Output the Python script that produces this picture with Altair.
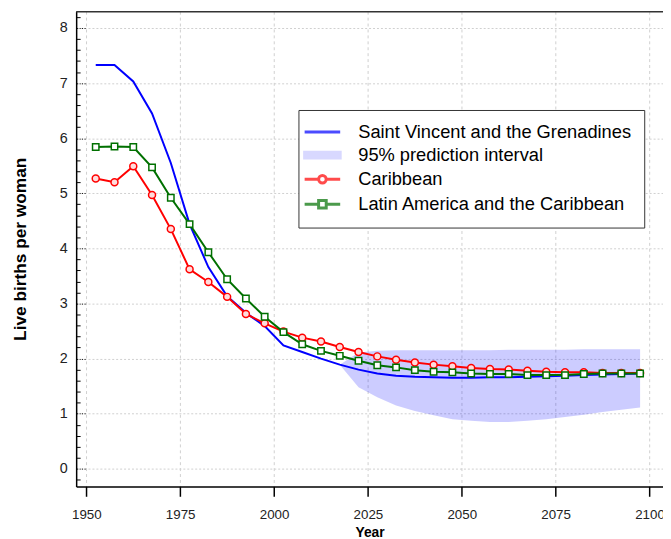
import altair as alt
import pandas as pd

# ---------------- data ----------------
years = [1952.5, 1957.5, 1962.5, 1967.5, 1972.5, 1977.5, 1982.5, 1987.5, 1992.5, 1997.5,
         2002.5, 2007.5, 2012.5, 2017.5, 2022.5, 2027.5, 2032.5, 2037.5, 2042.5, 2047.5,
         2052.5, 2057.5, 2062.5, 2067.5, 2072.5, 2077.5, 2082.5, 2087.5, 2092.5, 2097.5]

svg_tfr = [7.33, 7.33, 7.03, 6.45, 5.55, 4.44, 3.66, 3.13, 2.83, 2.59,
           2.24, 2.12, 2.00, 1.89, 1.80, 1.73, 1.69, 1.67, 1.66, 1.65,
           1.65, 1.66, 1.66, 1.67, 1.68, 1.69, 1.70, 1.71, 1.72, 1.73]

carib_tfr = [5.27, 5.20, 5.49, 4.97, 4.35, 3.62, 3.39, 3.12, 2.81, 2.64,
             2.49, 2.38, 2.31, 2.21, 2.12, 2.04, 1.98, 1.93, 1.89, 1.86,
             1.83, 1.81, 1.80, 1.78, 1.76, 1.75, 1.75, 1.74, 1.74, 1.74]

lac_tfr = [5.84, 5.85, 5.84, 5.47, 4.92, 4.44, 3.93, 3.44, 3.09, 2.76,
           2.48, 2.26, 2.14, 2.05, 1.96, 1.88, 1.84, 1.79, 1.76, 1.75,
           1.73, 1.72, 1.72, 1.70, 1.70, 1.70, 1.72, 1.73, 1.73, 1.73]

pi_years = [2017.5, 2022.5, 2027.5, 2032.5, 2037.5, 2042.5, 2047.5, 2052.5, 2057.5,
            2062.5, 2067.5, 2072.5, 2077.5, 2082.5, 2087.5, 2092.5, 2097.5]
pi_lower = [1.89, 1.48, 1.30, 1.15, 1.05, 0.97, 0.90, 0.87, 0.85,
            0.85, 0.87, 0.90, 0.94, 0.98, 1.03, 1.07, 1.11]
pi_upper = [1.89, 2.11, 2.14, 2.15, 2.15, 2.15, 2.15, 2.15, 2.15,
            2.16, 2.16, 2.16, 2.16, 2.17, 2.17, 2.17, 2.17]

x_ticks = [1950, 1975, 2000, 2025, 2050, 2075, 2100]
y_ticks = [0, 1, 2, 3, 4, 5, 6, 7, 8]
y_minor = [round(v / 10, 1) for v in range(-2, 83, 2) if v % 10 != 0]

legend_labels = ["Saint Vincent and the Grenadines", "95% prediction interval",
                 "Caribbean", "Latin America and the Caribbean"]

# ---------------- styling ----------------
FONT = "Liberation Sans"
BLUE = "#0000ff"
RED = "#ff0000"
GREEN = "#007000"
BAND = "#c8c8ff"

legend_colors = [BLUE, BAND, RED, GREEN]
legend_shapes = [
    "M-2.571,0H2.571",
    "M-2.786,-0.43H2.786M-2.786,-0.14H2.786M-2.786,0.14H2.786M-2.786,0.43H2.786",
    "M-2.571,0H-0.55M0.55,0H2.571M0.55,0A0.55,0.55 0 1 1 -0.55,0A0.55,0.55 0 1 1 0.55,0",
    "M-2.571,0H-0.55M0.55,0H2.571M-0.55,-0.55H0.55V0.55H-0.55Z",
]

df = pd.DataFrame({"year": years, "svg": svg_tfr, "carib": carib_tfr, "lac": lac_tfr})
band_df = pd.DataFrame({"year": pi_years, "lo": pi_lower, "hi": pi_upper})
leg_df = pd.DataFrame({"series": legend_labels})

PLOT_W = 594
PLOT_H = 481

x_scale = alt.Scale(domain=[1947.29, 2103.6], nice=False, zero=False)
y_scale = alt.Scale(domain=[-0.32, 8.305], nice=False, zero=False)

x_axis = alt.Axis(values=x_ticks, format="d", title="Year", grid=True,
                  gridColor="#cfcfcf", gridDash=[3, 3], gridWidth=1,
                  domainColor="black", domainWidth=1.5,
                  tickColor="black", tickWidth=1.5, tickSize=10,
                  labelFont=FONT, labelFontSize=13.5, labelColor="#222222",
                  labelPadding=12, labelFlush=False,
                  titleFont=FONT, titleFontSize=14, titleFontWeight="bold",
                  titleColor="black", titlePadding=4.5)

y_axis_main = alt.Axis(orient="left", values=y_ticks, format="d",
                       title="Live births per woman", grid=True,
                       gridColor="#cfcfcf", gridDash=[2, 2], gridWidth=1,
                       domainColor="black", domainWidth=1.5,
                       ticks=False, tickSize=0,
                       labelFont=FONT, labelFontSize=14.5, labelColor="#222222",
                       labelPadding=9,
                       titleFont=FONT, titleFontSize=17.5, titleFontWeight="bold",
                       titleColor="black", titlePadding=30)

y_axis_minor = alt.Axis(orient="left", values=y_minor, offset=-4, tickSize=4,
                        tickColor="black", tickWidth=1, domain=False,
                        labels=False, grid=False, title=None)

y_axis_major = alt.Axis(orient="left", values=y_ticks, offset=-9, tickSize=9,
                        tickColor="black", tickWidth=1, tickDash=[1, 1.5],
                        domain=False, labels=False, grid=False, title=None)

X = alt.X("year:Q", scale=x_scale, axis=x_axis)

band = alt.Chart(band_df).mark_area(color=BLUE, opacity=0.2).encode(
    x=X,
    y=alt.Y("lo:Q", scale=y_scale, axis=y_axis_main),
    y2="hi:Q",
)

blue = alt.Chart(df).mark_line(color=BLUE, strokeWidth=2).encode(
    x=X, y=alt.Y("svg:Q", scale=y_scale, axis=y_axis_minor))

red_line = alt.Chart(df).mark_line(color=RED, strokeWidth=2).encode(
    x=X, y=alt.Y("carib:Q", scale=y_scale, axis=y_axis_major))

red_pts = alt.Chart(df).mark_point(shape="circle", size=50, filled=True,
                                    fill="#ffdcdc", stroke=RED, strokeWidth=1.5,
                                    opacity=1).encode(
    x=X, y=alt.Y("carib:Q", scale=y_scale, axis=None))

green_line = alt.Chart(df).mark_line(color=GREEN, strokeWidth=2).encode(
    x=X, y=alt.Y("lac:Q", scale=y_scale, axis=None))

green_pts = alt.Chart(df).mark_point(shape="square", size=42, filled=True,
                                      fill="white", stroke=GREEN, strokeWidth=1.5,
                                      opacity=1).encode(
    x=X, y=alt.Y("lac:Q", scale=y_scale, axis=None))

leg = alt.Legend(title=None, orient="none", legendX=225, legendY=100,
                 padding=13, rowPadding=4.4, symbolSize=196,
                 symbolStrokeWidth=3, symbolOffset=2, labelOffset=27,
                 labelFont=FONT, labelFontSize=18.5, labelColor="black",
                 labelLimit=500, strokeColor="#333333", fillColor="white")

legend_layer = alt.Chart(leg_df).mark_point(filled=False, strokeWidth=3).encode(
    x=alt.value(-3000), y=alt.value(-3000),
    color=alt.Color("series:N", scale=alt.Scale(domain=legend_labels, range=legend_colors), legend=leg),
    shape=alt.Shape("series:N", scale=alt.Scale(domain=legend_labels, range=legend_shapes), legend=leg),
)

top_rule = alt.Chart(pd.DataFrame({"k": [0]})).mark_rule(color="#333333", strokeWidth=1.5).encode(
    y=alt.value(0.5))

chart = alt.layer(
    band, blue, red_line, red_pts, green_line, green_pts, legend_layer, top_rule
).resolve_axis(y="independent").properties(
    width=PLOT_W, height=PLOT_H,
    autosize=alt.AutoSizeParams(type="none"),
    padding={"left": 69, "top": 0, "right": 0, "bottom": 50},
).configure_view(stroke=None)

chart.save("out.html", embed_options={"renderer": "svg", "actions": False})
